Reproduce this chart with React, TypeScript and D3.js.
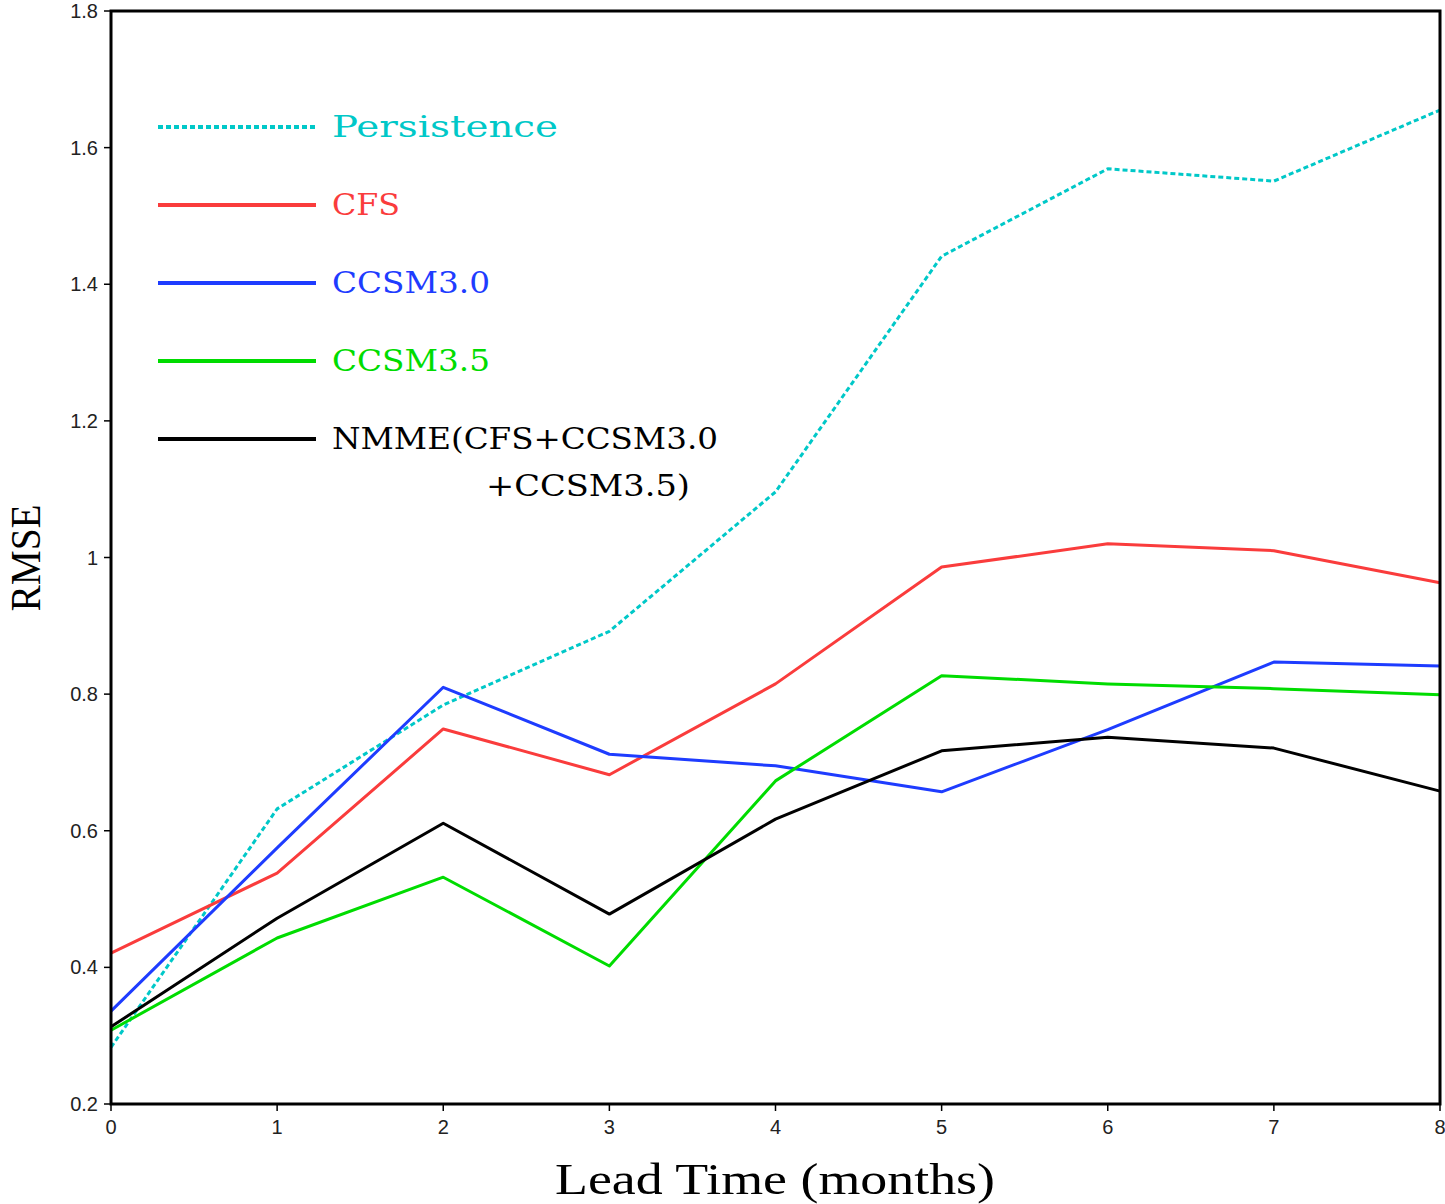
import React from "react";
import * as d3 from "d3";

const leadTimes = [0, 1, 2, 3, 4, 5, 6, 7, 8];
const persistence = [0.283, 0.632, 0.784, 0.892, 1.096, 1.441, 1.569, 1.551, 1.655];
const cfs = [0.421, 0.538, 0.749, 0.682, 0.815, 0.986, 1.02, 1.01, 0.963];
const ccsm30 = [0.336, 0.575, 0.81, 0.712, 0.695, 0.657, 0.748, 0.847, 0.841];
const ccsm35 = [0.308, 0.443, 0.532, 0.402, 0.673, 0.827, 0.815, 0.808, 0.799];
const nmme = [0.313, 0.472, 0.611, 0.478, 0.617, 0.717, 0.737, 0.721, 0.658];
const yTicks = [0.2, 0.4, 0.6, 0.8, 1, 1.2, 1.4, 1.6, 1.8];
const yTickLabels = ["0.2", "0.4", "0.6", "0.8", "1", "1.2", "1.4", "1.6", "1.8"];
const seriesNames = ["Persistence", "CFS", "CCSM3.0", "CCSM3.5", "NMME(CFS+CCSM3.0"];
const seriesColors = ["#00c8c8", "#fa3c3c", "#1e3cff", "#00dc00", "#000000"];

export default function App() {
  const W = 1445, H = 1204;
  const x0 = 111, x1 = 1440, y0 = 1104, y1 = 11;
  const x = d3.scaleLinear().domain([0, 8]).range([x0, x1]);
  const y = d3.scaleLinear().domain([0.2, 1.8]).range([y0, y1]);
  const line = d3.line<number>().x((_, i) => x(leadTimes[i])).y((d) => y(d));
  const data = [persistence, cfs, ccsm30, ccsm35, nmme];
  const drawOrder = [0, 1, 2, 3, 4];
  const legendY = [127, 205, 283, 361, 439];
  const legendLen = [226, 68, 158, 158, 386];
  const tickFont = "'Liberation Sans', Arial, sans-serif";
  const legFont = "'DejaVu Serif', 'Liberation Serif', serif";
  return (
    <svg width={W} height={H} style={{ position: "absolute", left: 0, top: 0, background: "#fff" }}>
      <rect x={0} y={0} width={W} height={H} fill="#fff" />
      {drawOrder.map((k) => (
        <path
          key={k}
          d={line(data[k]) || ""}
          fill="none"
          stroke={seriesColors[k]}
          strokeWidth={3}
          strokeDasharray={k === 0 ? "5 3" : undefined}
          strokeLinejoin="round"
        />
      ))}
      <rect x={x0} y={y1} width={x1 - x0} height={y0 - y1} fill="none" stroke="#000" strokeWidth={3} />
      {yTicks.map((t, i) => (
        <g key={t}>
          <line x1={x0 - 7} x2={x0} y1={y(t)} y2={y(t)} stroke="#000" strokeWidth={1.5} />
          <text x={98} y={y(t) + 7} textAnchor="end" fontFamily={tickFont} fontSize={20} fill="#222">
            {yTickLabels[i]}
          </text>
        </g>
      ))}
      {leadTimes.map((t) => (
        <g key={t}>
          <line x1={x(t)} x2={x(t)} y1={y0} y2={y0 + 7} stroke="#000" strokeWidth={1.5} />
          <text x={x(t)} y={1134} textAnchor="middle" fontFamily={tickFont} fontSize={20} fill="#222">
            {t}
          </text>
        </g>
      ))}
      {seriesNames.map((n, i) => (
        <g key={n}>
          <line
            x1={158}
            x2={316}
            y1={legendY[i]}
            y2={legendY[i]}
            stroke={seriesColors[i]}
            strokeWidth={4}
            strokeDasharray={i === 0 ? "5 3" : undefined}
          />
          <text
            x={332}
            y={legendY[i] + 10}
            fontFamily={legFont}
            fontSize={29}
            fill={seriesColors[i]}
            textLength={legendLen[i]}
            lengthAdjust="spacingAndGlyphs"
          >
            {n}
          </text>
        </g>
      ))}
      <text
        x={486}
        y={496}
        fontFamily={legFont}
        fontSize={29}
        fill="#000"
        textLength={204}
        lengthAdjust="spacingAndGlyphs"
      >
        +CCSM3.5)
      </text>
      <text
        x={775}
        y={1194}
        textAnchor="middle"
        fontFamily="'Liberation Serif', 'DejaVu Serif', serif"
        fontSize={44}
        fill="#000"
        textLength={440}
        lengthAdjust="spacingAndGlyphs"
      >
        Lead Time (months)
      </text>
      <text
        transform="translate(40,558) rotate(-90)"
        textAnchor="middle"
        fontFamily="'Liberation Serif', 'DejaVu Serif', serif"
        fontSize={42}
        fill="#000"
        textLength={107}
        lengthAdjust="spacingAndGlyphs"
      >
        RMSE
      </text>
    </svg>
  );
}
